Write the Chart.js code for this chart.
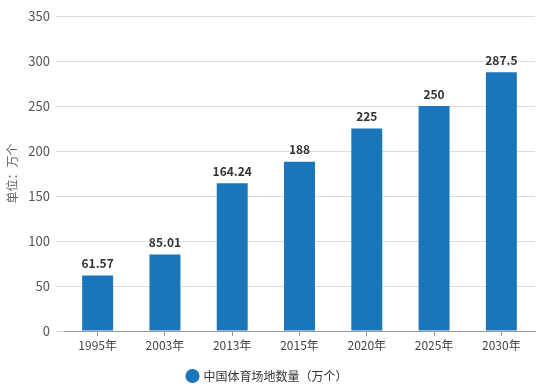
<!DOCTYPE html>
<html><head><meta charset="utf-8">
<script src="https://cdn.jsdelivr.net/npm/chart.js@4"></script>
<style>html,body{margin:0;padding:0;background:#fff}#w{width:544px;height:392px}</style>
</head><body><div id="w"><canvas id="c"></canvas></div>
<script>
const categories = ['1995年','2003年','2013年','2015年','2020年','2025年','2030年'];
const values = [61.57, 85.01, 164.24, 188, 225, 250, 287.5];
const valueLabels = ['61.57','85.01','164.24','188','225','250','287.5'];
const seriesName = '中国体育场地数量（万个）';
const yTitle = '单位：万个';
const FONT = '"Noto Sans CJK SC", "Microsoft YaHei", sans-serif';

const labelPlugin = {
  id: 'vlabels',
  afterDatasetsDraw(chart) {
    const ctx = chart.ctx;
    const meta = chart.getDatasetMeta(0);
    ctx.save();
    ctx.font = 'bold 12px ' + FONT;
    ctx.fillStyle = '#333';
    ctx.textAlign = 'center';
    ctx.textBaseline = 'bottom';
    meta.data.forEach((b, i) => ctx.fillText(valueLabels[i], b.x, b.y - 6));
    ctx.restore();
  }
};

new Chart(document.getElementById('c'), {
  type: 'bar',
  data: { labels: categories, datasets: [{ label: seriesName, data: values, backgroundColor: '#1a75bb', categoryPercentage: 1, barPercentage: 0.46 }] },
  options: {
    responsive: true, maintainAspectRatio: false, animation: false,
    layout: { padding: { top: 16, right: 9, left: 0, bottom: 0 } },
    plugins: {
      legend: { position: 'bottom', labels: { usePointStyle: true, pointStyle: 'circle', boxWidth: 10, boxHeight: 10, color: '#333', font: { family: FONT, size: 12 }, padding: 6 } },
      tooltip: { enabled: false }
    },
    scales: {
      x: {
        grid: { offset: false, drawOnChartArea: false, tickLength: 5, color: '#999' },
        border: { color: '#999' },
        ticks: { color: '#444', font: { family: FONT, size: 12 }, padding: 2 },
        afterFit(s) { s.height = 33; }
      },
      y: {
        min: 0, max: 350,
        ticks: { stepSize: 50, color: '#555', font: { family: FONT, size: 13 }, padding: 6 },
        grid: { color: '#ddd', tickLength: 8 },
        border: { display: false },
        title: { display: true, text: yTitle, color: '#666', font: { family: FONT, size: 12 }, padding: { top: 5, bottom: 0 } },
        afterFit(s) { s.width = 64; }
      }
    }
  },
  plugins: [labelPlugin]
});
</script></body></html>
